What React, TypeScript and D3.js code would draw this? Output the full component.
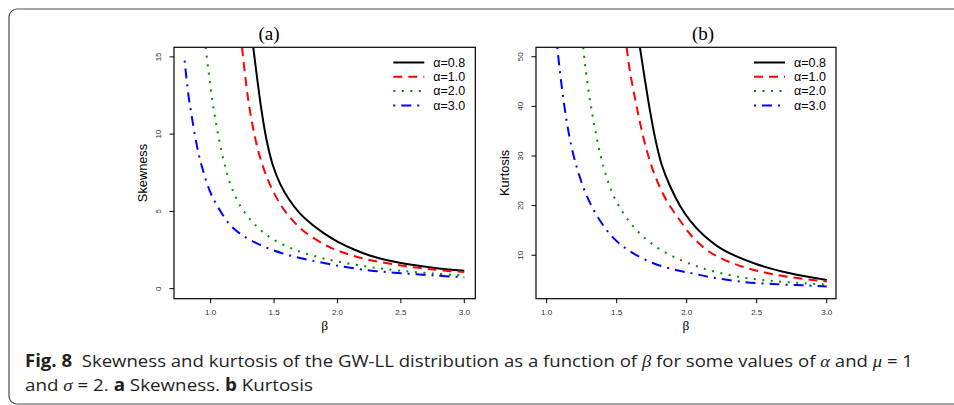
import React from 'react';
import * as d3 from 'd3';

// [beta, value] pairs
const skew08: [number, number][] = [
  [1.336, 15.62], [1.367, 13.6], [1.4, 11.6], [1.439, 9.7], [1.49, 8.0], [1.55, 6.75],
  [1.62, 5.75], [1.7, 4.9], [1.8, 4.15], [1.9, 3.55], [2.0, 3.05], [2.126, 2.55],
  [2.254, 2.15], [2.5, 1.66], [2.754, 1.36], [3.0, 1.16],
];
const skew10: [number, number][] = [
  [1.247, 15.62], [1.282, 13.1], [1.31, 11.5], [1.347, 9.9], [1.386, 8.6], [1.439, 7.3],
  [1.505, 6.1], [1.597, 4.9], [1.73, 3.75], [1.91, 2.8], [2.017, 2.42], [2.122, 2.13],
  [2.254, 1.86], [2.5, 1.5], [2.754, 1.24], [3.0, 1.07],
];
const skew20: [number, number][] = [
  [0.96, 15.62], [0.98, 14.3], [1.0, 13.0], [1.02, 11.85], [1.045, 10.6], [1.071, 9.45],
  [1.11, 8.05], [1.163, 6.6], [1.242, 5.25], [1.36, 4.05], [1.49, 3.2], [1.676, 2.48],
  [1.85, 2.04], [2.0, 1.76], [2.254, 1.4], [2.5, 1.16], [2.754, 0.98], [3.0, 0.85],
];
const skew30: [number, number][] = [
  [0.795, 14.76], [0.808, 13.69], [0.827, 12.4], [0.848, 11.31], [0.874, 10.02], [0.905, 8.73],
  [0.94, 7.65], [0.992, 6.35], [1.058, 5.28], [1.15, 4.15], [1.242, 3.5], [1.36, 2.95],
  [1.49, 2.5], [1.623, 2.15], [1.78, 1.85], [2.0, 1.49], [2.254, 1.18], [2.5, 1.0],
  [2.754, 0.86], [3.0, 0.73],
];

const kurt08: [number, number][] = [
  [1.666, 51.9], [1.702, 45.3], [1.738, 39.1], [1.774, 33.7], [1.821, 28.3], [1.88, 24.0],
  [1.952, 20.0], [2.024, 17.0], [2.119, 14.1], [2.261, 11.1], [2.5, 8.2], [2.738, 6.36],
  [3.0, 5.0],
];
const kurt10: [number, number][] = [
  [1.571, 51.9], [1.595, 47.0], [1.631, 41.6], [1.666, 36.8], [1.714, 31.2], [1.774, 26.0],
  [1.857, 21.0], [1.952, 17.0], [2.048, 13.5], [2.167, 10.6], [2.31, 8.6], [2.5, 6.9],
  [2.738, 5.6], [3.0, 4.72],
];
const kurt20: [number, number][] = [
  [1.261, 51.9], [1.274, 48.5], [1.298, 43.3], [1.321, 39.3], [1.345, 35.5], [1.381, 30.6],
  [1.429, 25.6], [1.488, 21.4], [1.571, 17.5], [1.666, 14.4], [1.786, 11.6], [1.929, 9.4],
  [2.05, 8.0], [2.167, 6.95], [2.381, 5.6], [2.619, 4.8], [2.857, 4.33], [3.0, 4.08],
];
const kurt30: [number, number][] = [
  [1.076, 51.9], [1.095, 47.0], [1.119, 41.6], [1.147, 36.3], [1.183, 31.2], [1.226, 26.7],
  [1.286, 22.0], [1.369, 17.5], [1.476, 13.5], [1.595, 10.8], [1.762, 8.4], [1.929, 7.0],
  [2.05, 6.3], [2.167, 5.6], [2.381, 4.7], [2.619, 4.2], [2.857, 3.92], [3.0, 3.72],
];

const betaTicks = [1.0, 1.5, 2.0, 2.5, 3.0];
const skewTicks = [0, 5, 10, 15];
const kurtTicks = [10, 20, 30, 40, 50];
const legendLabels = ['α=0.8', 'α=1.0', 'α=2.0', 'α=3.0'];

const colors = ['#000000', '#ff0000', '#008b00', '#0000ff'];
const dashes = ['none', '9,6', '2,6.5', '2,6,10,6'];

const TOP = 47.3;
const BOTTOM = 298.7;
const sans = "'Liberation Sans', Arial, sans-serif";

type PanelProps = {
  id: string;
  x0: number;
  x1: number;
  xDomain: [number, number];
  yDomain: [number, number];
  yTicks: number[];
  series: [number, number][][];
  title: string;
  titleX: number;
  yLabel: string;
};

function Panel({ id, x0, x1, xDomain, yDomain, yTicks, series, title, titleX, yLabel }: PanelProps) {
  const x = d3.scaleLinear().domain(xDomain).range([x0, x1]);
  const y = d3.scaleLinear().domain(yDomain).range([BOTTOM, TOP]);
  const line = d3
    .line<[number, number]>()
    .x(d => x(d[0]))
    .y(d => y(d[1]))
    .curve(d3.curveCatmullRom.alpha(0.5));
  const cx = (x0 + x1) / 2;
  const cy = (TOP + BOTTOM) / 2;

  return (
    <g>
      <defs>
        <clipPath id={id}>
          <rect x={x0} y={TOP} width={x1 - x0} height={BOTTOM - TOP} />
        </clipPath>
      </defs>
      <g clipPath={`url(#${id})`}>
        {series.map((s, i) => (
          <path
            key={i}
            d={line(s) || ''}
            fill="none"
            stroke={colors[i]}
            strokeWidth={2}
            strokeDasharray={dashes[i]}
          />
        ))}
      </g>
      <rect x={x0} y={TOP} width={x1 - x0} height={BOTTOM - TOP} fill="none" stroke="#000" strokeWidth={1.2} />

      {/* x axis */}
      {betaTicks.map(t => (
        <g key={t}>
          <line x1={x(t)} x2={x(t)} y1={BOTTOM} y2={BOTTOM + 4.5} stroke="#000" strokeWidth={1} />
          <text x={x(t)} y={BOTTOM + 16.5} textAnchor="middle" fontFamily={sans} fontSize={8} fill="#333">
            {t.toFixed(1)}
          </text>
        </g>
      ))}
      <text x={cx} y={330} textAnchor="middle" fontFamily="'Liberation Serif', serif" fontSize={13.5}>
        β
      </text>

      {/* y axis */}
      {yTicks.map(t => (
        <g key={t}>
          <line x1={x0 - 4.5} x2={x0} y1={y(t)} y2={y(t)} stroke="#000" strokeWidth={1} />
          <text
            transform={`translate(${x0 - 13.5},${y(t)}) rotate(-90)`}
            textAnchor="middle"
            fontFamily={sans}
            fontSize={8}
            fill="#333"
          >
            {t}
          </text>
        </g>
      ))}
      <text
        transform={`translate(${x0 - 27},${cy}) rotate(-90)`}
        textAnchor="middle"
        fontFamily={sans}
        fontSize={12.8}
      >
        {yLabel}
      </text>

      {/* title */}
      <text x={titleX} y={40} textAnchor="middle" fontFamily="'Liberation Serif', serif" fontSize={19}>
        {title}
      </text>

      {/* legend */}
      {legendLabels.map((lab, i) => {
        const ry = 62.5 + i * 14.3;
        return (
          <g key={lab}>
            <line
              x1={x1 - 82}
              x2={x1 - 51}
              y1={ry}
              y2={ry}
              stroke={colors[i]}
              strokeWidth={2}
              strokeDasharray={dashes[i]}
            />
            <text x={x1 - 42} y={ry + 4.3} fontFamily={sans} fontSize={12.5}>
              {lab}
            </text>
          </g>
        );
      })}
    </g>
  );
}

export default function App() {
  const capFont = "'Open Sans', 'Noto Sans', sans-serif";
  const mathFont = "'Liberation Serif', serif";
  return (
    <svg
      width={954}
      height={405}
      style={{ position: 'absolute', left: 0, top: 0, background: '#fff' }}
    >
      <rect x={9} y={9} width={980} height={395} rx={8} fill="none" stroke="#4a4a4a" strokeWidth={1.2} />

      <Panel
        id="clipA"
        x0={174}
        x1={475.3}
        xDomain={[0.711, 3.087]}
        yDomain={[-0.65, 15.62]}
        yTicks={skewTicks}
        series={[skew08, skew10, skew20, skew30]}
        title="(a)"
        titleX={269}
        yLabel="Skewness"
      />
      <Panel
        id="clipB"
        x0={536}
        x1={836}
        xDomain={[0.924, 3.066]}
        yDomain={[1.25, 51.9]}
        yTicks={kurtTicks}
        series={[kurt08, kurt10, kurt20, kurt30]}
        title="(b)"
        titleX={703}
        yLabel="Kurtosis"
      />

      <text x={25} y={367} fontFamily={capFont} fontSize={17} fill="#231f20" textLength={888} lengthAdjust="spacingAndGlyphs">
        <tspan fontWeight="bold">Fig. 8</tspan>
        <tspan>{'\u00a0 Skewness and kurtosis of the GW-LL distribution as a function of '}</tspan>
        <tspan fontFamily={mathFont} fontStyle="italic">β</tspan>
        <tspan>{' for some values of '}</tspan>
        <tspan fontFamily={mathFont} fontStyle="italic">α</tspan>
        <tspan>{' and '}</tspan>
        <tspan fontFamily={mathFont} fontStyle="italic">μ</tspan>
        <tspan>{' = 1'}</tspan>
      </text>
      <text x={25} y={391} fontFamily={capFont} fontSize={17} fill="#231f20" textLength={288} lengthAdjust="spacingAndGlyphs">
        <tspan>{'and '}</tspan>
        <tspan fontFamily={mathFont} fontStyle="italic">σ</tspan>
        <tspan>{' = 2. '}</tspan>
        <tspan fontWeight="bold">a</tspan>
        <tspan>{' Skewness. '}</tspan>
        <tspan fontWeight="bold">b</tspan>
        <tspan>{' Kurtosis'}</tspan>
      </text>
    </svg>
  );
}
